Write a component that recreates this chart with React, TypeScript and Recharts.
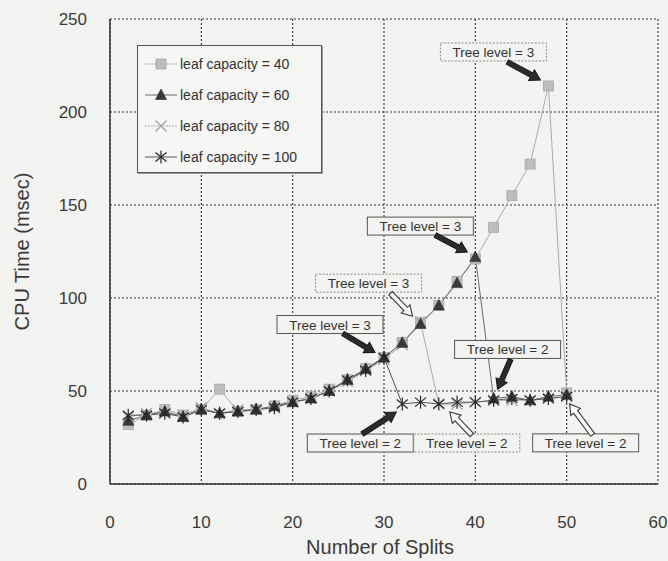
import React from "react";
import { LineChart, Line, XAxis, YAxis, CartesianGrid, ReferenceDot } from "recharts";

// number of splits (x) and CPU time in msec for each leaf capacity
const splits = [2, 4, 6, 8, 10, 12, 14, 16, 18, 20, 22, 24, 26, 28, 30, 32, 34, 36, 38, 40, 42, 44, 46, 48, 50];
const cap40 = [32, 37, 40, 37, 40, 51, 39, 40, 42, 45, 47, 51, 56, 62, 68, 76, 87, 96, 109, 121, 138, 155, 172, 214, 49];
const cap60 = [34, 37, 39, 36, 40, 38, 39, 40, 42, 44, 46, 50, 56, 62, 68, 76, 86, 96, 108, 122, 46, 47, 45, 47, 48];
const cap80 = [36, 38, 38, 37, 41, 38, 40, 40, 41, 44, 46, 50, 55, 61, 67, 75, 87, 43, 43, 44, 45, 45, 45, 46, 47];
const cap100 = [37, 37, 38, 36, 40, 38, 39, 40, 41, 44, 46, 50, 56, 61, 68, 43, 44, 43, 44, 44, 45, 46, 45, 46, 47];

const xTicks = [0, 10, 20, 30, 40, 50, 60];
const yTicks = [0, 50, 100, 150, 200, 250];

// tree-level notes: which series, at which split count, and the level reached
const notes = [
  { key: "c100", at: 30, level: 3 },
  { key: "c100", at: 32, level: 2 },
  { key: "c80", at: 34, level: 3 },
  { key: "c80", at: 36, level: 2 },
  { key: "c60", at: 40, level: 3 },
  { key: "c60", at: 42, level: 2 },
  { key: "c40", at: 48, level: 3 },
  { key: "c40", at: 50, level: 2 },
];

// box centre / arrow tail / arrow head, in px relative to the point
const noteLayout = [
  { box: [-54, -33], from: [-41, -24], to: [-9, -5], hollow: false, dotted: false },
  { box: [-42, 39], from: [-40, 30], to: [-6, 8], hollow: false, dotted: false },
  { box: [-52, -39], from: [-30, -29], to: [-8, -6], hollow: true, dotted: true },
  { box: [28, 39], from: [33, 31], to: [11, 8], hollow: true, dotted: true },
  { box: [-55, -31], from: [-40, -22], to: [-8, -5], hollow: false, dotted: false },
  { box: [14, -49], from: [17, -39], to: [4, -9], hollow: false, dotted: false },
  { box: [-55, -34], from: [-41, -24], to: [-8, -6], hollow: false, dotted: true },
  { box: [19, 50], from: [26, 42], to: [3, 11], hollow: true, dotted: false },
];

const FONT = "'Liberation Sans', Arial, sans-serif";
const BG = "#f3f3f1";

type MarkerKind = "square" | "triangle" | "cross" | "star";

function Marker({ kind, cx, cy }: { kind: MarkerKind; cx: number; cy: number }) {
  if (kind === "square")
    return <rect x={cx - 5} y={cy - 5} width={10} height={10} fill="#bdbdbd" stroke="#a8a8a8" strokeWidth={0.8} />;
  if (kind === "triangle")
    return <polygon points={`${cx},${cy - 6} ${cx + 5.5},${cy + 4.5} ${cx - 5.5},${cy + 4.5}`} fill="#3a3a3a" stroke="#2a2a2a" strokeWidth={0.6} />;
  if (kind === "cross")
    return (
      <g stroke="#a2a2a2" strokeWidth={1.2}>
        <line x1={cx - 5.5} y1={cy - 5.5} x2={cx + 5.5} y2={cy + 5.5} />
        <line x1={cx - 5.5} y1={cy + 5.5} x2={cx + 5.5} y2={cy - 5.5} />
      </g>
    );
  return (
    <g stroke="#262626" strokeWidth={1.2}>
      <line x1={cx} y1={cy - 6.5} x2={cx} y2={cy + 6.5} />
      <line x1={cx - 5.5} y1={cy - 4.5} x2={cx + 5.5} y2={cy + 4.5} />
      <line x1={cx - 5.5} y1={cy + 4.5} x2={cx + 5.5} y2={cy - 4.5} />
    </g>
  );
}

const series = [
  { key: "c40", name: "leaf capacity = 40", values: cap40, stroke: "#ababab", marker: "square" as MarkerKind, dash: "2 1" },
  { key: "c80", name: "leaf capacity = 80", values: cap80, stroke: "#ababab", marker: "cross" as MarkerKind, dash: "2 1" },
  { key: "c60", name: "leaf capacity = 60", values: cap60, stroke: "#6a6a6a", marker: "triangle" as MarkerKind, dash: undefined },
  { key: "c100", name: "leaf capacity = 100", values: cap100, stroke: "#555", marker: "star" as MarkerKind, dash: undefined },
];
const legendOrder = ["c40", "c60", "c80", "c100"];

const data = splits.map((s, i) => ({
  splits: s,
  c40: cap40[i],
  c60: cap60[i],
  c80: cap80[i],
  c100: cap100[i],
}));

function arrowPath(x1: number, y1: number, x2: number, y2: number) {
  const dx = x2 - x1;
  const dy = y2 - y1;
  const len = Math.hypot(dx, dy);
  const ux = dx / len;
  const uy = dy / len;
  const nx = -uy;
  const ny = ux;
  const w = 2.4;
  const h = 6;
  const L = 10;
  const bx = x2 - ux * L;
  const by = y2 - uy * L;
  const pts = [
    [x1 + nx * w, y1 + ny * w],
    [bx + nx * w, by + ny * w],
    [bx + nx * h, by + ny * h],
    [x2, y2],
    [bx - nx * h, by - ny * h],
    [bx - nx * w, by - ny * w],
    [x1 - nx * w, y1 - ny * w],
  ];
  return "M" + pts.map((p) => `${p[0].toFixed(1)},${p[1].toFixed(1)}`).join("L") + "Z";
}

function Callout({ cx, cy, text, lay }: { cx: number; cy: number; text: string; lay: (typeof noteLayout)[number] }) {
  const bw = 106;
  const bh = 18;
  const bxc = cx + lay.box[0];
  const byc = cy + lay.box[1];
  return (
    <g>
      <rect
        x={bxc - bw / 2}
        y={byc - bh / 2}
        width={bw}
        height={bh}
        fill={BG}
        stroke={lay.dotted ? "#8a8a8a" : "#555"}
        strokeWidth={1}
        strokeDasharray={lay.dotted ? "2 1.5" : undefined}
      />
      <text x={bxc} y={byc + 5} textAnchor="middle" fontSize={13.5} fill="#333" fontFamily={FONT}>
        {text}
      </text>
      <path
        d={arrowPath(cx + lay.from[0], cy + lay.from[1], cx + lay.to[0], cy + lay.to[1])}
        fill={lay.hollow ? "#fafafa" : "#2c2c2c"}
        stroke={lay.hollow ? "#3a3a3a" : "#1a1a1a"}
        strokeWidth={1.1}
      />
    </g>
  );
}

function LegendBox() {
  return (
    <div
      style={{
        position: "absolute",
        left: 137,
        top: 45,
        width: 183,
        padding: "2px 0 0 0",
        border: "1px solid #555",
        boxShadow: "1px 1px 0 #999",
        background: "#f6f6f4",
        fontFamily: FONT,
        fontSize: 14,
        color: "#333",
      }}
    >
      {legendOrder.map((k) => {
        const s = series.find((x) => x.key === k)!;
        return (
          <div key={k} style={{ display: "flex", alignItems: "center", height: 31 }}>
            <svg width={34} height={20} style={{ marginLeft: 7 }}>
              <line x1={0} y1={10} x2={32} y2={10} stroke={s.stroke} strokeWidth={1} strokeDasharray={s.dash} />
              <Marker kind={s.marker} cx={16} cy={10} />
            </svg>
            <span style={{ marginLeft: 1 }}>{s.name}</span>
          </div>
        );
      })}
    </div>
  );
}

export default function App() {
  return (
    <div style={{ position: "absolute", left: 0, top: 0, width: 668, height: 561, background: BG, fontFamily: FONT }}>
      <LineChart width={668} height={561} data={data} margin={{ top: 19, right: 10, left: 0, bottom: 0 }}>
        <CartesianGrid stroke="#333" strokeWidth={1.1} strokeDasharray="2 2" horizontalValues={yTicks} verticalValues={xTicks} />
        <XAxis
          type="number"
          dataKey="splits"
          domain={[0, 60]}
          ticks={xTicks}
          height={77}
          tickLine={false}
          tickSize={0}
          tickMargin={32}
          axisLine={{ stroke: "#333", strokeWidth: 1.5 }}
          tick={{ fontSize: 17, fill: "#3a3a3a", fontFamily: FONT }}
          label={{
            content: (p: any) => {
              const vb = p.viewBox;
              return (
                <text x={vb.x + vb.width / 2 - 4} y={vb.y + 70} textAnchor="middle" fontSize={20} fill="#3a3a3a" fontFamily={FONT}>
                  Number of Splits
                </text>
              );
            },
          }}
        />
        <YAxis
          type="number"
          domain={[0, 250]}
          ticks={yTicks}
          width={110}
          tickLine={false}
          tickSize={0}
          tickMargin={23}
          axisLine={{ stroke: "#333", strokeWidth: 1.5 }}
          tick={{ fontSize: 17, fill: "#3a3a3a", fontFamily: FONT }}
          label={{
            content: (p: any) => {
              const vb = p.viewBox;
              const x = 29;
              const y = vb.y + vb.height / 2;
              return (
                <text x={x} y={y} transform={`rotate(-90 ${x} ${y})`} textAnchor="middle" fontSize={20} fill="#3a3a3a" fontFamily={FONT}>
                  CPU Time (msec)
                </text>
              );
            },
          }}
        />
        {series.map((s) => (
          <Line
            key={s.key}
            dataKey={s.key}
            name={s.name}
            type="linear"
            stroke={s.stroke}
            strokeWidth={1}
            isAnimationActive={false}
            activeDot={false}
            dot={(p: any) => (
              <g key={`${s.key}-${p.index}`}>
                <Marker kind={s.marker} cx={p.cx} cy={p.cy} />
              </g>
            )}
          />
        ))}
        {notes.map((n, i) => {
          const s = series.find((x) => x.key === n.key)!;
          const v = s.values[splits.indexOf(n.at)];
          return (
            <ReferenceDot
              key={`note-${i}`}
              x={n.at}
              y={v}
              r={0}
              ifOverflow="visible"
              shape={(p: any) => <Callout cx={p.cx} cy={p.cy} text={`Tree level = ${n.level}`} lay={noteLayout[i]} />}
            />
          );
        })}
      </LineChart>
      <LegendBox />
    </div>
  );
}
